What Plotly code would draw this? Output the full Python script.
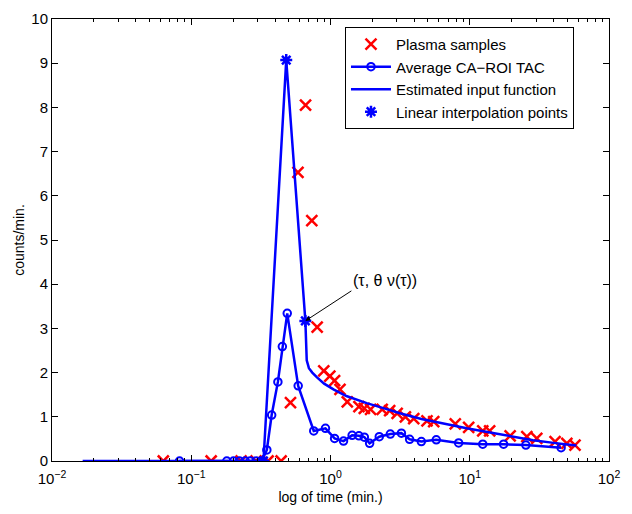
import plotly.graph_objects as go
import math

# Plasma samples (time in min, counts/min)
plasma_t = [0.0630, 0.139, 0.228, 0.292, 0.356, 0.442, 0.516, 0.584, 0.662, 0.734,
            0.802, 0.895, 0.989, 1.07, 1.17, 1.32, 1.60, 1.75, 1.94, 2.35,
            2.66, 3.01, 3.45, 3.96, 4.93, 5.51, 7.87, 9.82, 12.4, 13.9,
            19.5, 25.7, 30.3, 41.0, 49.8, 57.0]
plasma_y = [0, 0, 0, 0, 0, 0, 1.32, 6.53, 8.05, 5.44,
            3.03, 2.04, 1.92, 1.82, 1.62, 1.34, 1.23, 1.19, 1.17, 1.17,
            1.14, 1.08, 1.00, 0.96, 0.91, 0.89, 0.84, 0.76, 0.68, 0.68,
            0.57, 0.55, 0.51, 0.44, 0.40, 0.36]

# Average CA-ROI TAC
tac_t = [0.0824, 0.180, 0.201, 0.222, 0.244, 0.265, 0.292, 0.321, 0.349, 0.378,
         0.419, 0.451, 0.489, 0.586, 0.758, 0.920, 1.07, 1.24, 1.43, 1.60,
         1.75, 1.91, 2.24, 2.69, 3.23, 3.70, 4.49, 5.75, 8.32, 12.4,
         17.5, 25.3, 45.3]
tac_y = [0, 0, 0, 0, 0, 0, 0, 0, 0.25, 1.04,
         1.79, 2.59, 3.34, 1.70, 0.68, 0.74, 0.51, 0.45, 0.58, 0.57,
         0.54, 0.40, 0.55, 0.61, 0.63, 0.49, 0.44, 0.48, 0.41, 0.38,
         0.38, 0.36, 0.30]

# Estimated input function
if_t = [0.0166, 0.330, 0.481, 0.660, 0.675, 0.70, 0.74, 0.80, 0.90, 1.05,
        1.3, 1.82, 2.5, 3.15, 4.5, 6.5, 9.5, 15, 20, 28.5, 40, 49, 58.3]
if_y = [0, 0, 9.07, 3.17, 2.28, 2.10, 2.00, 1.89, 1.75, 1.62,
        1.47, 1.31, 1.18, 1.08, 0.95, 0.84, 0.74, 0.63, 0.56, 0.47, 0.41, 0.38, 0.35]

# Linear interpolation points
interp_t = [0.330, 0.481, 0.660]
interp_y = [0, 9.07, 3.17]

# Axis ticks
x_tickvals = [0.01, 0.1, 1, 10, 100]
x_ticktext = ["10<sup>\u22122</sup>", "10<sup>\u22121</sup>", "10<sup>0</sup>",
              "10<sup>1</sup>", "10<sup>2</sup>"]
x_minor = [m * d for d in [0.01, 0.1, 1, 10] for m in range(2, 10)]
y_tickvals = list(range(0, 11))

BLUE = "#0000FF"
RED = "#FF0000"
FONT = "Liberation Sans"

fig = go.Figure()
fig.add_trace(go.Scatter(x=plasma_t, y=plasma_y, mode="markers", name="Plasma samples",
                         marker=dict(symbol="x-thin", size=11, color=RED,
                                     line=dict(color=RED, width=2.5))))
fig.add_trace(go.Scatter(x=tac_t, y=tac_y, mode="lines+markers", name="Average CA\u2212ROI TAC",
                         line=dict(color=BLUE, width=2.5),
                         marker=dict(symbol="circle-open", size=7.5, color=BLUE,
                                     line=dict(color=BLUE, width=2))))
fig.add_trace(go.Scatter(x=if_t, y=if_y, mode="lines", name="Estimated input function",
                         line=dict(color=BLUE, width=2.5)))
fig.add_trace(go.Scatter(x=interp_t, y=interp_y, mode="markers", name="Linear interpolation points",
                         marker=dict(symbol="asterisk-open", size=10, color=BLUE,
                                     line=dict(color=BLUE, width=2.5))))

fig.add_annotation(x=math.log10(interp_t[2]), y=interp_y[2], xref="x", yref="y",
                   text="(\u03c4, \u03b8 \u03bd(\u03c4))", showarrow=True,
                   arrowhead=2, arrowsize=1, arrowwidth=1, arrowcolor="black",
                   ax=46, ay=-30, xanchor="left", yanchor="bottom",
                   font=dict(family=FONT, size=16, color="black"))

axis_common = dict(showline=True, linecolor="black", linewidth=1, mirror="ticks",
                   ticks="inside", ticklen=6, tickcolor="black", showgrid=False,
                   zeroline=False, automargin=False,
                   tickfont=dict(family=FONT, size=15, color="black"))

fig.update_xaxes(type="log", range=[-2, 2], tickmode="array",
                 tickvals=x_tickvals, ticktext=x_ticktext, ticklabelstandoff=4,
                 minor=dict(tickmode="array", tickvals=x_minor, ticks="inside",
                            ticklen=3, tickcolor="black", showgrid=False),
                 title=dict(text="log of time (min.)", font=dict(family=FONT, size=14, color="black"),
                            standoff=6),
                 **axis_common)
fig.update_yaxes(range=[0, 10], tickmode="array", tickvals=y_tickvals,
                 title=dict(text="counts/min.", font=dict(family=FONT, size=14, color="black"),
                            standoff=3),
                 **axis_common)

fig.update_layout(width=632, height=514, margin=dict(l=52, r=23, t=19, b=53),
                  paper_bgcolor="white", plot_bgcolor="white",
                  font=dict(family=FONT, color="black"),
                  legend=dict(x=0.526, y=0.982, xanchor="left", yanchor="top",
                              bgcolor="white", bordercolor="black", borderwidth=1,
                              font=dict(family=FONT, size=15, color="black"),
                              itemwidth=40, tracegroupgap=0))

fig.write_html("out.html", config={"displayModeBar": False},
               post_script="document.body.style.margin='0';document.body.style.overflow='hidden';")
